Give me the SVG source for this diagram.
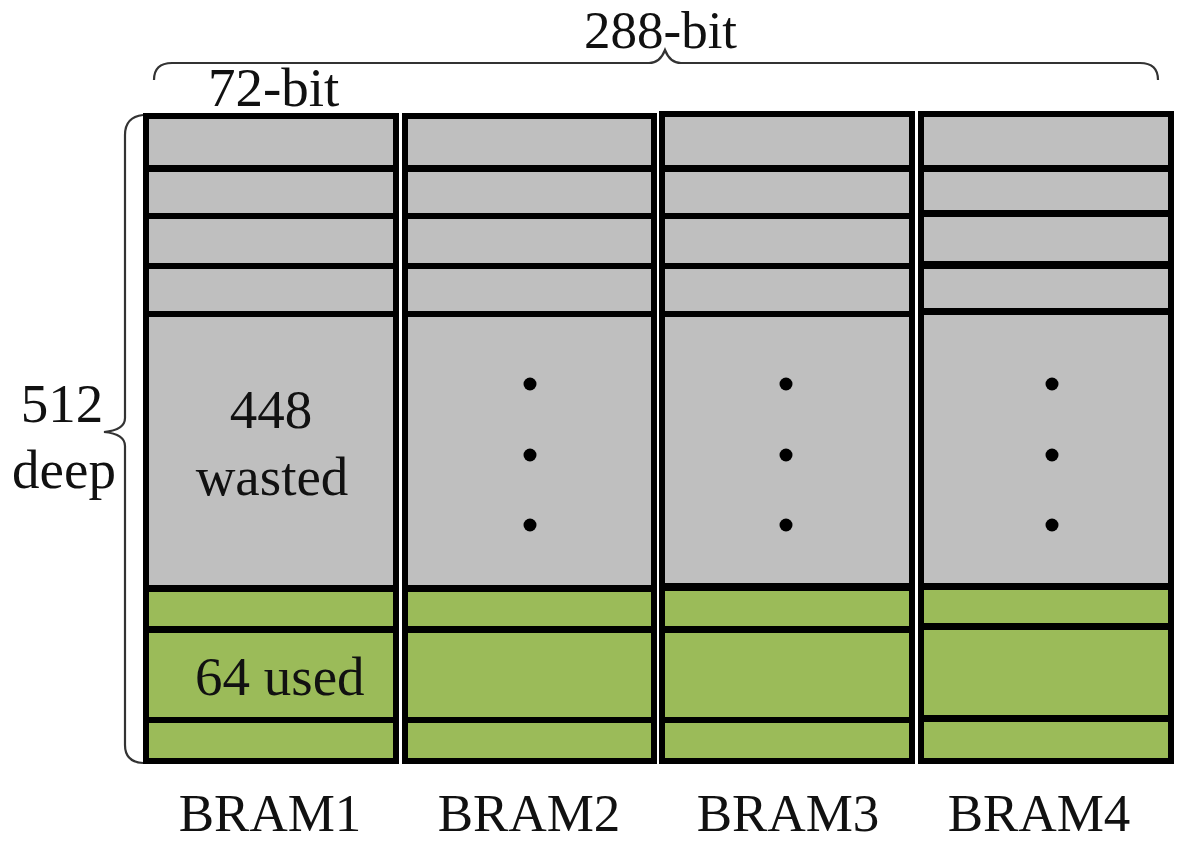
<svg xmlns="http://www.w3.org/2000/svg" width="1179" height="843" viewBox="0 0 1179 843">
<style>
.frame{fill:#000}
.g{fill:#BFBFBF}
.gr{fill:#9BBB59}
.t{font-family:"Liberation Serif","Times New Roman",serif;font-size:55px;fill:#111}
.s{font-size:53px}
.c{text-anchor:middle}
.brace{fill:none;stroke:#333;stroke-width:2.2}
.dot{fill:#000}
</style>
<rect width="1179" height="843" fill="#fff"/>
<g id="connectors">
<path class="brace" d="M154,80 Q154,63 172,63 L649,63 Q660,63 665,50 Q670,63 681,63 L1140,63 Q1158,63 1158,80"/>
<path class="brace" d="M143,115 Q125,117 125,135 L125,418 Q125,430 104,432 Q125,434 125,446 L125,745 Q125,762 143,763"/>
</g>
<g id="labels">
<text class="t s" x="584" y="48">288-bit</text>
<text class="t" x="208" y="106">72-bit</text>
<text class="t c" x="62" y="422">512</text>
<text class="t c" x="64" y="488">deep</text>
</g>
<g id="bram1">
<rect class="frame" x="143" y="113" width="256" height="651"/>
<rect class="g" x="149" y="119" width="244" height="46"/>
<rect class="g" x="149" y="172" width="244" height="41"/>
<rect class="g" x="149" y="219" width="244" height="44"/>
<rect class="g" x="149" y="269" width="244" height="42"/>
<rect class="g" x="149" y="317" width="244" height="268"/>
<rect class="gr" x="149" y="592" width="244" height="34"/>
<rect class="gr" x="149" y="633" width="244" height="84"/>
<rect class="gr" x="149" y="723" width="244" height="35"/>
<text class="t c" x="271" y="428">448</text>
<text class="t c" x="272" y="495">wasted</text>
<text class="t" x="195" y="695">64 used</text>
<text class="t s c" x="270" y="831">BRAM1</text>
</g>
<g id="bram2">
<rect class="frame" x="402" y="113" width="255" height="651"/>
<rect class="g" x="408" y="119" width="243" height="46"/>
<rect class="g" x="408" y="172" width="243" height="41"/>
<rect class="g" x="408" y="219" width="243" height="44"/>
<rect class="g" x="408" y="269" width="243" height="42"/>
<rect class="g" x="408" y="317" width="243" height="268"/>
<rect class="gr" x="408" y="592" width="243" height="34"/>
<rect class="gr" x="408" y="633" width="243" height="84"/>
<rect class="gr" x="408" y="723" width="243" height="35"/>
<circle class="dot" cx="530" cy="384" r="6.5"/>
<circle class="dot" cx="530" cy="455" r="6.5"/>
<circle class="dot" cx="530" cy="525" r="6.5"/>
<text class="t s c" x="529" y="831">BRAM2</text>
</g>
<g id="bram3">
<rect class="frame" x="659" y="111" width="256" height="653"/>
<rect class="g" x="665" y="117" width="244" height="48"/>
<rect class="g" x="665" y="172" width="244" height="41"/>
<rect class="g" x="665" y="219" width="244" height="44"/>
<rect class="g" x="665" y="269" width="244" height="42"/>
<rect class="g" x="665" y="317" width="244" height="266"/>
<rect class="gr" x="665" y="591" width="244" height="35"/>
<rect class="gr" x="665" y="633" width="244" height="84"/>
<rect class="gr" x="665" y="723" width="244" height="35"/>
<circle class="dot" cx="786" cy="384" r="6.5"/>
<circle class="dot" cx="786" cy="455" r="6.5"/>
<circle class="dot" cx="786" cy="525" r="6.5"/>
<text class="t s c" x="788" y="831">BRAM3</text>
</g>
<g id="bram4">
<rect class="frame" x="918" y="111" width="256" height="653"/>
<rect class="g" x="924" y="117" width="244" height="48"/>
<rect class="g" x="924" y="172" width="244" height="38"/>
<rect class="g" x="924" y="217" width="244" height="44"/>
<rect class="g" x="924" y="269" width="244" height="39"/>
<rect class="g" x="924" y="315" width="244" height="268"/>
<rect class="gr" x="924" y="590" width="244" height="33"/>
<rect class="gr" x="924" y="630" width="244" height="85"/>
<rect class="gr" x="924" y="722" width="244" height="36"/>
<circle class="dot" cx="1052" cy="384" r="6.5"/>
<circle class="dot" cx="1052" cy="455" r="6.5"/>
<circle class="dot" cx="1052" cy="525" r="6.5"/>
<text class="t s c" x="1039" y="831">BRAM4</text>
</g>
</svg>
